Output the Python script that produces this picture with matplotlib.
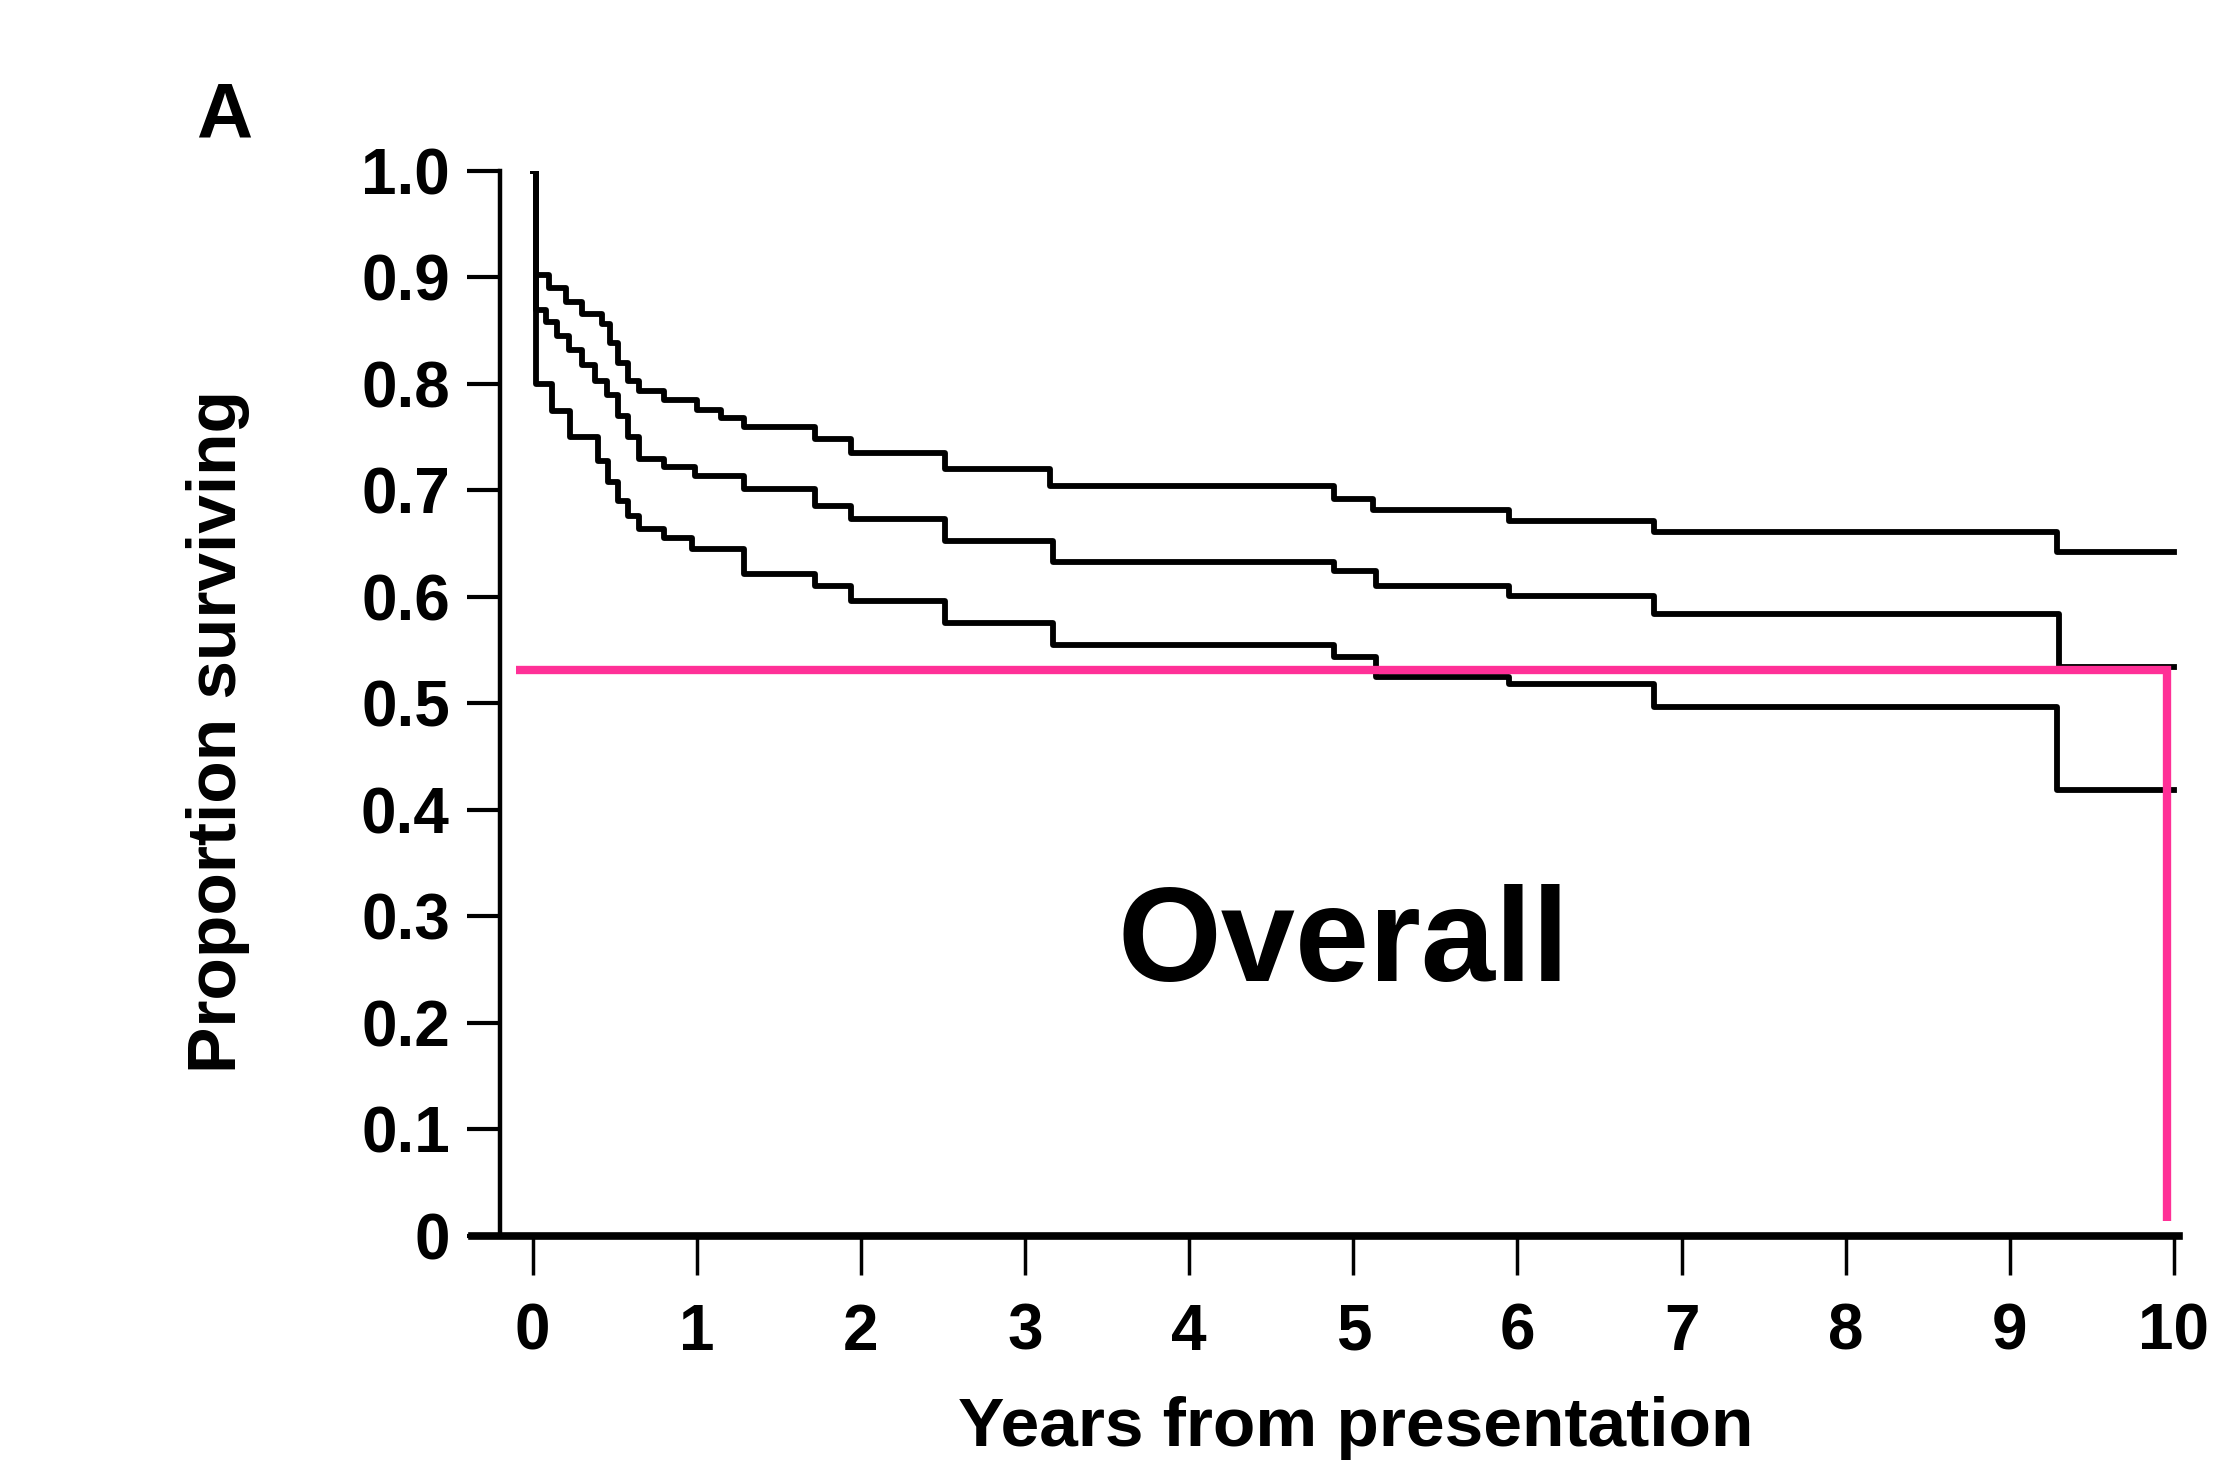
import matplotlib.pyplot as plt

# Kaplan-Meier estimate with upper / lower confidence bounds
upper_t = [0, 0.02, 0.1, 0.2, 0.3, 0.42, 0.47, 0.52, 0.58, 0.65, 0.8, 1.0, 1.15, 1.29, 1.72, 1.94,
           2.51, 3.15, 4.88, 5.12, 5.95, 6.83, 9.29, 10.0]
upper_s = [1.0, 0.902, 0.89, 0.877, 0.866, 0.856, 0.838, 0.82, 0.803, 0.793, 0.785, 0.776, 0.768,
           0.760, 0.748, 0.735, 0.720, 0.704, 0.692, 0.682, 0.671, 0.661, 0.642, 0.642]

mid_t = [0, 0.02, 0.08, 0.15, 0.22, 0.3, 0.38, 0.45, 0.52, 0.58, 0.65, 0.8, 0.99, 1.29, 1.72,
         1.94, 2.51, 3.17, 4.88, 5.14, 5.95, 6.83, 9.30, 10.0]
mid_s = [1.0, 0.869, 0.858, 0.845, 0.832, 0.818, 0.803, 0.79, 0.77, 0.75, 0.730, 0.722, 0.714,
         0.701, 0.685, 0.673, 0.653, 0.633, 0.624, 0.610, 0.601, 0.584, 0.534, 0.534]

low_t = [0, 0.02, 0.12, 0.23, 0.40, 0.46, 0.52, 0.58, 0.65, 0.8, 0.97, 1.29, 1.72, 1.94, 2.51,
         3.17, 4.88, 5.14, 5.95, 6.83, 9.29, 10.0]
low_s = [1.0, 0.800, 0.775, 0.750, 0.728, 0.708, 0.69, 0.676, 0.664, 0.655, 0.645, 0.622, 0.610,
         0.596, 0.576, 0.555, 0.544, 0.525, 0.518, 0.497, 0.419, 0.419]

# pink highlight: median-ish level and end of follow up
pink_level = 0.531
pink_x = [-0.1, 9.96, 9.96]
pink_y = [pink_level, pink_level, 0.014]

x_ticks = list(range(0, 11))
y_ticks = [0, 0.1, 0.2, 0.3, 0.4, 0.5, 0.6, 0.7, 0.8, 0.9, 1.0]
y_labels = ['0', '0.1', '0.2', '0.3', '0.4', '0.5', '0.6', '0.7', '0.8', '0.9', '1.0']

plt.rcParams['font.family'] = ['Liberation Sans', 'DejaVu Sans']
plt.rcParams['font.weight'] = 'bold'

fig = plt.figure(figsize=(22.4, 14.7), dpi=100)
ax = fig.add_axes([0.2107, 0.1592, 0.762, 0.7245])

for t, s in [(upper_t, upper_s), (mid_t, mid_s), (low_t, low_s)]:
    ax.step(t, s, where='post', color='black', lw=4.2)

ax.plot(pink_x, pink_y, color='#ff3097', lw=6, solid_capstyle='butt', solid_joinstyle='miter')

ax.text(4.94, 0.272, 'Overall', fontsize=96, fontweight='bold', ha='center', va='center')

ax.set_xlim(-0.37, 10.03)
ax.set_ylim(0, 1.0)

ax.spines['top'].set_visible(False)
ax.spines['right'].set_visible(False)
ax.spines['left'].set_position(('data', -0.2))
ax.spines['left'].set_linewidth(3.2)
ax.spines['bottom'].set_linewidth(5.5)

ax.set_xticks(x_ticks)
ax.set_xticklabels([str(v) for v in x_ticks])
ax.set_yticks(y_ticks)
ax.set_yticklabels(y_labels)
ax.tick_params(axis='x', direction='out', length=28, width=2.5, pad=20, labelsize=46)
ax.tick_params(axis='y', direction='out', length=24, width=3, pad=12, labelsize=46)

ax.set_xlabel('Years from presentation', fontsize=50, fontweight='bold')
ax.xaxis.set_label_coords(0.518, -0.15)
ax.set_ylabel('Proportion surviving', fontsize=50, fontweight='bold')
ax.yaxis.set_label_coords(-0.13, 0.474)

fig.text(224 / 2240, 1 - 117 / 1470, 'A', fontsize=56, fontweight='bold', ha='center', va='center')

fig.savefig('out.png', dpi=100, facecolor='white')
